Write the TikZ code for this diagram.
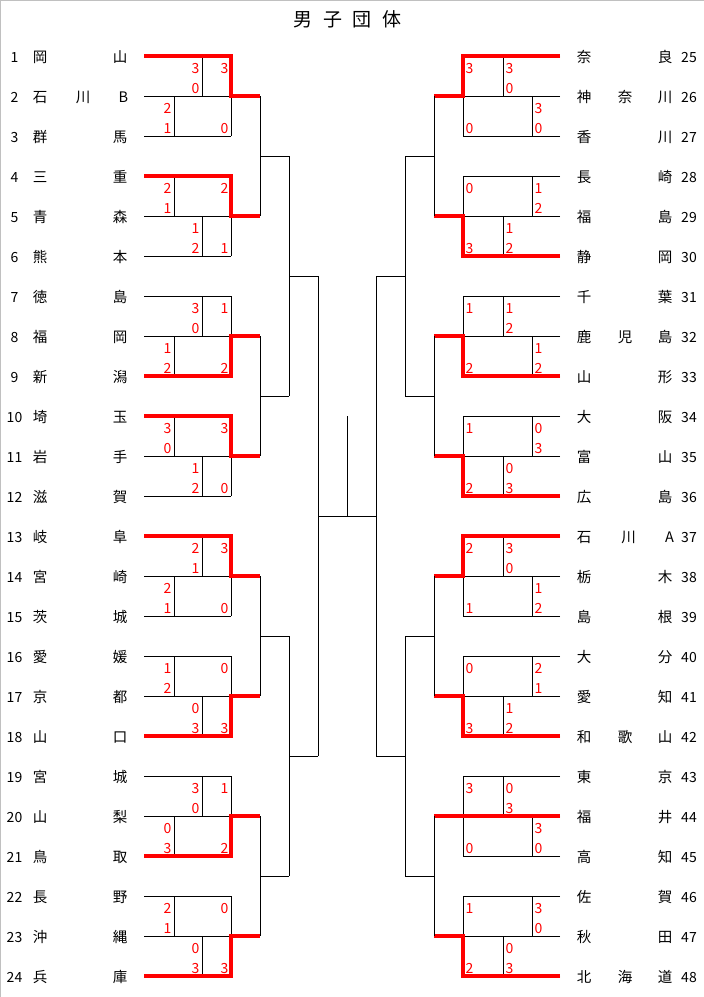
\documentclass[tikz,border=0pt]{standalone}
\usepackage{fontspec}
\setmainfont{Noto Sans CJK JP}
\begin{document}
\begin{tikzpicture}[x=1pt,y=-1pt,
  bk/.style={line width=1pt,black},
  win/.style={line width=3.2pt,red,line join=miter},
  sc/.style={font=\fontsize{14}{15}\selectfont,text=red,inner sep=0pt},
  nm/.style={font=\fontsize{14.5}{15}\selectfont,inner sep=0pt,anchor=base},
  num/.style={font=\fontsize{14}{15}\selectfont,inner sep=0pt,anchor=base},
  ttl/.style={font=\fontsize{19}{20}\selectfont,inner sep=0pt,anchor=base}]
\useasboundingbox (0,0) rectangle (704,997);
% frame
\draw[line width=1.3pt,color={rgb,255:red,192;green,192;blue,192}] (0.65,997) -- (0.65,0.65) -- (704,0.65);
% title
\node[ttl] (t1) at (303,26.5) {男};
\node[ttl] (t2) at (332.7,26.5) {子};
\node[ttl] (t3) at (362.3,26.5) {団};
\node[ttl] (t4) at (392,26.5) {体};
% left groups
\foreach \g/\xu/\xl/\a/\b/\c/\d/\e/\f/\w in {
 0/202/174/3/0/2/1/3/0/1, 1/174/202/2/1/1/2/2/1/1,
 2/202/174/3/0/1/2/1/2/3, 3/174/202/3/0/1/2/3/0/1,
 4/202/174/2/1/2/1/3/0/1, 5/174/202/1/2/0/3/0/3/3,
 6/202/174/3/0/0/3/1/2/3, 7/174/202/2/1/0/3/0/3/3}{
  \pgfmathsetmacro\ya{56+120*\g}
  \pgfmathsetmacro\yb{\ya+40}
  \pgfmathsetmacro\yc{\ya+80}
  \pgfmathsetmacro\yw{\ya+40*(\w-1)}
  \draw[bk] (144,\ya) -- (231,\ya) (144,\yb) -- (231,\yb) (144,\yc) -- (231,\yc);
  \draw[bk] (\xu,\ya) -- (\xu,\yb) (\xl,\yb) -- (\xl,\yc) (231,\ya) -- (231,\yc);
  \draw[win] (144,\yw) -- (231,\yw) -- (231,\yb) -- (260,\yb);
  \node[sc,anchor=base east] (sL\g a) at ({\xu-2.5},{\ya+17}) {\a};
  \node[sc,anchor=base east] (sL\g b) at ({\xu-2.5},{\yb-3}) {\b};
  \node[sc,anchor=base east] (sL\g c) at ({\xl-2.5},{\yb+17}) {\c};
  \node[sc,anchor=base east] (sL\g d) at ({\xl-2.5},{\yc-3}) {\d};
  \node[sc,anchor=base east] (sL\g e) at (228.5,{\ya+17}) {\e};
  \node[sc,anchor=base east] (sL\g f) at (228.5,{\yc-3}) {\f};
}
% right groups
\foreach \g/\xu/\xl/\a/\b/\c/\d/\e/\f/\w in {
 0/503/532/3/0/3/0/3/0/1, 1/532/503/1/2/1/2/0/3/3,
 2/503/532/1/2/1/2/1/2/3, 3/532/503/0/3/0/3/1/2/3,
 4/503/532/3/0/1/2/2/1/1, 5/532/503/2/1/1/2/0/3/3,
 6/503/532/0/3/3/0/3/0/2, 7/532/503/3/0/0/3/1/2/3}{
  \pgfmathsetmacro\ya{56+120*\g}
  \pgfmathsetmacro\yb{\ya+40}
  \pgfmathsetmacro\yc{\ya+80}
  \pgfmathsetmacro\yw{\ya+40*(\w-1)}
  \draw[bk] (560,\ya) -- (463,\ya) (560,\yb) -- (463,\yb) (560,\yc) -- (463,\yc);
  \draw[bk] (\xu,\ya) -- (\xu,\yb) (\xl,\yb) -- (\xl,\yc) (463,\ya) -- (463,\yc);
  \draw[win] (560,\yw) -- (463,\yw) -- (463,\yb) -- (434,\yb);
  \node[sc,anchor=base west] (sR\g a) at ({\xu+2.5},{\ya+17}) {\a};
  \node[sc,anchor=base west] (sR\g b) at ({\xu+2.5},{\yb-3}) {\b};
  \node[sc,anchor=base west] (sR\g c) at ({\xl+2.5},{\yb+17}) {\c};
  \node[sc,anchor=base west] (sR\g d) at ({\xl+2.5},{\yc-3}) {\d};
  \node[sc,anchor=base west] (sR\g e) at (465.5,{\ya+17}) {\e};
  \node[sc,anchor=base west] (sR\g f) at (465.5,{\yc-3}) {\f};
}
% later rounds
\foreach \k in {0,1,2,3}{
  \pgfmathsetmacro\ya{96+240*\k}
  \draw[bk] (260,\ya) -- (260,\ya+120) (260,\ya+60) -- (289,\ya+60);
  \draw[bk] (434,\ya) -- (434,\ya+120) (434,\ya+60) -- (405,\ya+60);
}
\foreach \k in {0,1}{
  \pgfmathsetmacro\ya{156+480*\k}
  \draw[bk] (289,\ya) -- (289,\ya+240) (289,\ya+120) -- (318,\ya+120);
  \draw[bk] (405,\ya) -- (405,\ya+240) (405,\ya+120) -- (376,\ya+120);
}
\draw[bk] (318,276) -- (318,756) (376,276) -- (376,756) (318,516) -- (376,516);
\draw[bk] (347,416) -- (347,516);
% left teams
\foreach \n/\a/\m/\b in {1/岡//山,3/群//馬,4/三//重,5/青//森,6/熊//本,
 7/徳//島,8/福//岡,9/新//潟,10/埼//玉,11/岩//手,12/滋//賀,13/岐//阜,
 14/宮//崎,15/茨//城,16/愛//媛,17/京//都,18/山//口,19/宮//城,20/山//梨,
 21/鳥//取,22/長//野,23/沖//縄,24/兵//庫}{
  \pgfmathsetmacro\yy{56+40*(\n-1)+6}
  \node[num] (nL\n) at (14.5,\yy) {\n};
  \node[nm] (aL\n) at (40,\yy) {\a};
  \node[nm] (mL\n) at (80,\yy) {\m};
  \node[nm] (bL\n) at (120,\yy) {\b};
}
\node[num] (nL2) at (14.5,102) {2};
\node[nm] (aL2) at (40,102) {石};
\node[nm] (mL2) at (83,102) {川};
\node[nm] (bL2) at (123.5,102) {B};
% right teams
\foreach \n/\a/\m/\b in {25/奈//良,26/神/奈/川,27/香//川,28/長//崎,29/福//島,
 30/静//岡,31/千//葉,32/鹿/児/島,33/山//形,34/大//阪,35/富//山,36/広//島,
 38/栃//木,39/島//根,40/大//分,41/愛//知,42/和/歌/山,43/東//京,
 44/福//井,45/高//知,46/佐//賀,47/秋//田,48/北/海/道}{
  \pgfmathsetmacro\yy{56+40*(\n-25)+6}
  \node[num] (nR\n) at (689,\yy) {\n};
  \node[nm] (aR\n) at (584,\yy) {\a};
  \node[nm] (mR\n) at (625,\yy) {\m};
  \node[nm] (bR\n) at (665,\yy) {\b};
}
\node[num] (nR37) at (689,542) {37};
\node[nm] (aR37) at (584,542) {石};
\node[nm] (mR37) at (628.5,542) {川};
\node[nm] (bR37) at (669.5,542) {A};
\end{tikzpicture}
\end{document}
